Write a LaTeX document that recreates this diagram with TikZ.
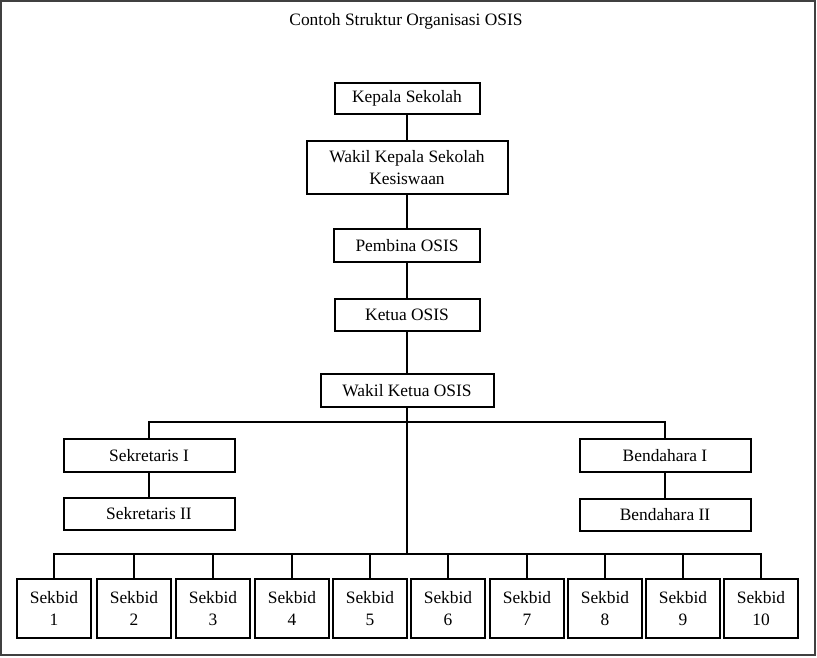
\documentclass[tikz,border=0pt]{standalone}
\usepackage{fontspec}
\setmainfont{Liberation Serif}
\begin{document}
\begin{tikzpicture}[x=1pt,y=-1pt,
  box/.style={draw, line width=2pt, inner sep=0pt, align=center,
    font=\fontsize{17.4}{22}\selectfont},
  link/.style={line width=2pt}]
\useasboundingbox (0,0) rectangle (817,657);
\draw[line width=1.3pt, black!75] (1,1) rectangle (815,655);
\node[font=\fontsize{17.4}{22}\selectfont] (title) at (406,21) {Contoh Struktur Organisasi OSIS};
% main chain
\node[box, minimum width=145pt, minimum height=31pt] (kepala) at (407,98.5) {Kepala Sekolah};
\node[box, minimum width=201pt, minimum height=53pt] (wakilkep) at (407,167.5) {Wakil Kepala Sekolah\\Kesiswaan};
\node[box, minimum width=146pt, minimum height=33pt] (pembina) at (407,245.5) {Pembina OSIS};
\node[box, minimum width=145pt, minimum height=32pt] (ketua) at (407,315) {Ketua OSIS};
\node[box, minimum width=173pt, minimum height=33pt] (wakilket) at (407,390.5) {Wakil Ketua OSIS};
% secretaries and treasurers
\node[box, minimum width=171pt, minimum height=33pt] (sek1) at (149,455.5) {Sekretaris I};
\node[box, minimum width=171pt, minimum height=32pt] (sek2) at (149,514) {Sekretaris II};
\node[box, minimum width=171pt, minimum height=33pt] (ben1) at (665,455.5) {Bendahara I};
\node[box, minimum width=171pt, minimum height=32pt] (ben2) at (665,515) {Bendahara II};
% sekbid
\foreach \i/\x in {1/54,2/134,3/213,4/292,5/370,6/448,7/527,8/605,9/683,10/761}{
  \node[box, minimum width=74pt, minimum height=59pt] (sb\i) at (\x,608.5) {Sekbid\\\i};
}
\coordinate (bot) at (407,555);
% connectors
\draw[link] (kepala) -- (wakilkep);
\draw[link] (wakilkep) -- (pembina);
\draw[link] (pembina) -- (ketua);
\draw[link] (ketua) -- (wakilket);
\draw[link] (wakilket.south) -- (bot);
\draw[link] (sek1.north) -- ++(0,-16) -| (ben1.north);
\draw[link] (sek1) -- (sek2);
\draw[link] (ben1) -- (ben2);
\draw[link] (sb1.north) -- ++(0,-24) -| (sb10.north);
\foreach \i in {2,...,9}{
  \draw[link] (sb\i.north) -- (sb\i.north |- bot);
}
\end{tikzpicture}
\end{document}
